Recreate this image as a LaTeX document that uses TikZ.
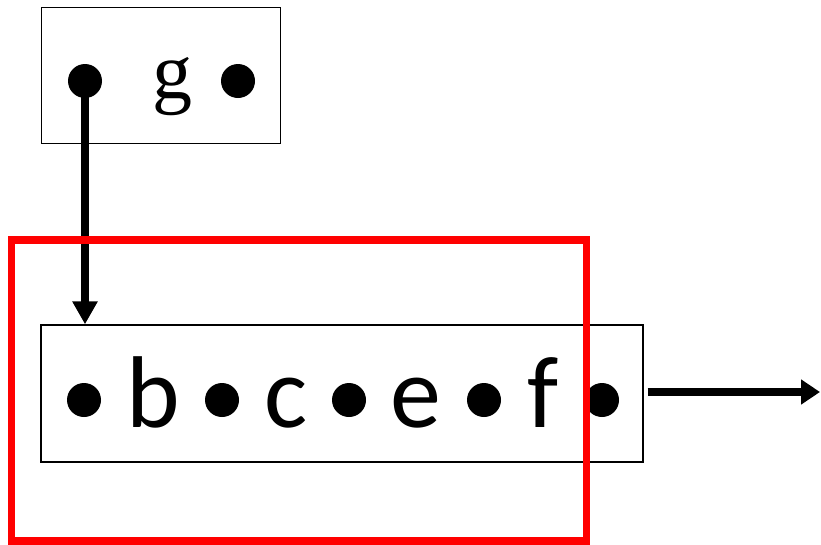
\documentclass[tikz,border=0pt]{standalone}
\usepackage{fontspec}
\setmainfont{Carlito}
\newfontfamily\serifg{Liberation Serif}
\usetikzlibrary{arrows.meta}
\begin{document}
\begin{tikzpicture}[x=1pt,y=-1pt,
  cell/.style={draw=black,line width=1.4pt,inner sep=0pt},
  blob/.style={circle,fill=black,inner sep=0pt,minimum size=34pt},
  letter/.style={anchor=base,inner sep=0pt,font=\fontsize{102}{102}\selectfont},
  link/.style={line width=7.5pt,-{Triangle[length=23pt,width=24pt]}},
  frame/.style={draw=red,line width=7.5pt}]
\useasboundingbox (0,0) rectangle (821,544);
% upper cell holding g
\node[cell,minimum width=239pt,minimum height=136pt] (gbox) at (161,75.5) {};
\node[blob] (g1) at (85,81) {};
\node[blob] (g2) at (238,81) {};
\node[anchor=base,inner sep=0pt,font=\serifg\fontsize{80}{80}\selectfont] (gl) at (172,98) {g};
% lower cell holding b c e f
\node[cell,minimum width=602pt,minimum height=137pt] (list) at (342,393.5) {};
\node[blob] (d1) at (84,400) {};
\node[letter] (lb) at (153,427) {b};
\node[blob] (d2) at (222,400) {};
\node[letter] (lc) at (286,427) {c};
\node[blob] (d3) at (349,400) {};
\node[letter] (le) at (416,427) {e};
\node[blob] (d4) at (484,400) {};
\node[letter] (lf) at (543,427) {f};
\node[blob] (d5) at (602,400) {};
% pointers
\coordinate (out) at (820,392);
\draw[link] (g1.center) -- (g1.center |- list.north);
\draw[link,-{Triangle[length=19pt,width=24pt]}] (list.east |- out) ++(4,0) -- (out);
% highlight frame
\node[frame,minimum width=575pt,minimum height=301pt,inner sep=0pt] (hl) at (299,390.5) {};
\end{tikzpicture}
\end{document}
